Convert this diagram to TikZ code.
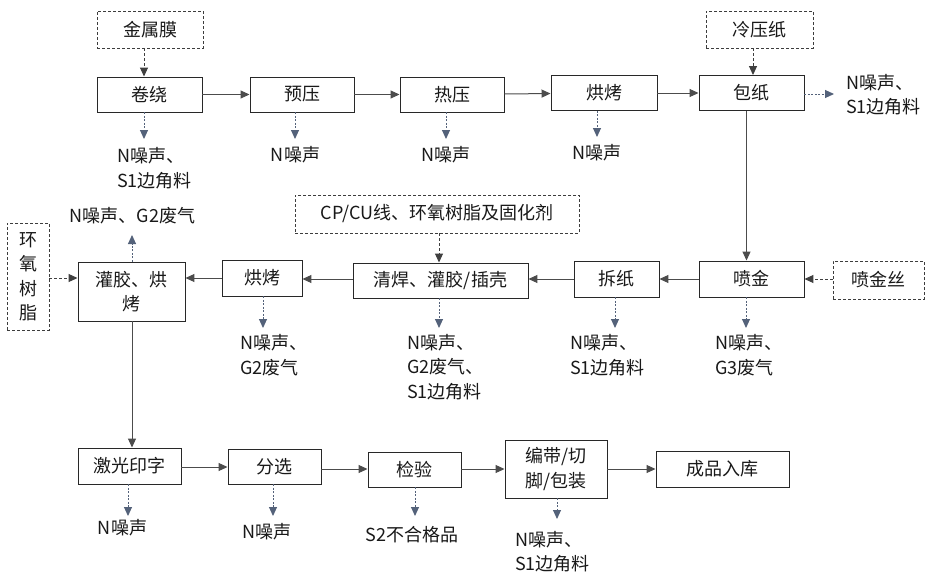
\documentclass[tikz,border=0pt]{standalone}
\usepackage{fontspec}
\setmainfont{Noto Sans CJK SC}
\usetikzlibrary{arrows.meta}
\definecolor{slate}{RGB}{84,98,122}
\definecolor{boxline}{RGB}{40,40,40}
\definecolor{txt}{RGB}{25,25,25}
\newcommand{\fs}{\fontsize{18}{24.5}\selectfont}
\begin{document}
\begin{tikzpicture}[x=1pt,y=-1pt,
  box/.style={draw=boxline, line width=0.95pt, inner sep=0pt, align=center, font=\fs, text=txt},
  dbox/.style={box, dash pattern=on 3pt off 2pt, draw=boxline!90},
  lab/.style={align=left, inner sep=0pt, font=\fs, text=txt},
  main/.style={-{Triangle[length=9pt,width=8pt]}, line width=1pt, draw=black!70},
  feed/.style={-{Triangle[length=9pt,width=8pt]}, line width=1pt, draw=black!75, dash pattern=on 3pt off 2pt},
  emit/.style={-{Triangle[length=9pt,width=8pt]}, line width=1pt, draw=slate, dash pattern=on 2pt off 1.5pt}
]
\useasboundingbox (0,0) rectangle (928,573);
\fill[white] (0,0) rectangle (928,573);

% row 1
\node[dbox, minimum width=106pt, minimum height=37pt] (mem) at (150,29.5) {金属膜};
\node[box, minimum width=105pt, minimum height=35pt] (jr) at (149.5,94.5) {卷绕};
\node[box, minimum width=104pt, minimum height=35pt] (yy) at (302,94.5) {预压};
\node[box, minimum width=104pt, minimum height=35pt] (ry) at (452,94.5) {热压};
\node[box, minimum width=106pt, minimum height=35pt] (hk) at (604,93) {烘烤};
\node[box, minimum width=105pt, minimum height=35pt] (bz) at (751.5,93) {包纸};
\node[dbox, minimum width=107pt, minimum height=37pt] (lyz) at (759.5,29.5) {冷压纸};

\draw[feed] (mem.south -| 144,0) -- (jr.north -| 144,0);
\draw[feed] (lyz.south -| 753,0) -- (bz.north -| 753,0);
\draw[main] (jr) -- (yy);
\draw[main] (yy) -- (ry);
\draw[main] (ry) -- (hk);
\draw[main] (hk) -- (bz);

\coordinate (e1) at (144,139);
\coordinate (e2) at (295,139);
\coordinate (e3) at (446,139);
\coordinate (e4) at (597,137);
\coordinate (e5) at (834,94);
\draw[emit] (jr.south -| e1) -- (e1);
\draw[emit] (yy.south -| e2) -- (e2);
\draw[emit] (ry.south -| e3) -- (e3);
\draw[emit] (hk.south -| e4) -- (e4);
\draw[emit] (bz.east |- e5) -- (e5);

\node[lab, anchor=west] (l1) at (117,168) {N噪声、\\S1边角料};
\node[lab] (l2) at (295.5,155) {N噪声};
\node[lab] (l3) at (445.5,155) {N噪声};
\node[lab] (l4) at (597,153) {N噪声};
\node[lab, anchor=west] (l5) at (846,94.5) {N噪声、\\S1边角料};

% row 2
\node[box, minimum width=105pt, minimum height=36pt] (pj) at (751.5,279) {喷金};
\node[dbox, minimum width=91pt, minimum height=38pt] (pjs) at (878.5,280) {喷金丝};
\node[box, minimum width=85pt, minimum height=36pt] (cz) at (616.5,279) {拆纸};
\node[box, minimum width=175pt, minimum height=35pt] (qh) at (440.5,280.5) {清焊、灌胶/插壳};
\node[dbox, minimum width=284pt, minimum height=38pt] (cp) at (437,214) {CP/CU线、环氧树脂及固化剂};
\node[box, minimum width=80pt, minimum height=36pt] (hk2) at (262,278) {烘烤};
\node[box, minimum width=107pt, minimum height=59pt] (gj) at (131.5,291.5) {灌胶、烘\\烤};
\node[dbox, minimum width=42pt, minimum height=107pt] (hy) at (28,276.5) {环\\氧\\树\\脂};

\draw[main] ([xshift=-5pt]bz.south) -- ([xshift=-5pt]bz.south |- pj.north);
\draw[feed] (pjs.west |- 0,279) -- (pj.east |- 0,279);
\draw[main] (pj.west |- 0,279) -- (cz.east |- 0,279);
\draw[main] (cz.west |- 0,279) -- (qh.east |- 0,279);
\draw[main] (qh.west |- 0,279) -- (hk2.east |- 0,279);
\draw[main] (hk2.west |- 0,278) -- (gj.east |- 0,278);
\draw[feed] (hy.east |- 0,278) -- (gj.west |- 0,278);
\draw[feed] (cp.south -| 439,0) -- (qh.north -| 439,0);

\coordinate (u1) at (132,235);
\draw[emit] (gj.north -| u1) -- (u1);
\node[lab] (lu) at (132.5,216) {N噪声、G2废气};

\coordinate (f1) at (263,328);
\coordinate (f2) at (439,328);
\coordinate (f3) at (615,328);
\coordinate (f4) at (746,328);
\draw[emit] (hk2.south -| f1) -- (f1);
\draw[emit] (qh.south -| f2) -- (f2);
\draw[emit] (cz.south -| f3) -- (f3);
\draw[emit] (pj.south -| f4) -- (f4);
\node[lab, anchor=west] (m1) at (240,355) {N噪声、\\G2废气};
\node[lab, anchor=west] (m2) at (407,367) {N噪声、\\G2废气、\\S1边角料};
\node[lab, anchor=west] (m3) at (570,355) {N噪声、\\S1边角料};
\node[lab, anchor=west] (m4) at (715,355) {N噪声、\\G3废气};

% row 3
\node[box, minimum width=103pt, minimum height=36pt] (jg) at (129.5,466) {激光印字};
\node[box, minimum width=93pt, minimum height=35pt] (fx) at (274.5,466.5) {分选};
\node[box, minimum width=93pt, minimum height=35pt] (jy) at (414.5,469.5) {检验};
\node[box, minimum width=102pt, minimum height=58pt] (bd) at (556,469) {编带/切\\脚/包装};
\node[box, minimum width=133pt, minimum height=36pt] (cpk) at (722.5,469) {成品入库};

\draw[main] (gj.south -| 132,0) -- (jg.north -| 132,0);
\draw[main] (jg.east |- 0,467) -- (fx.west |- 0,467);
\draw[main] (fx.east |- 0,469) -- (jy.west |- 0,469);
\draw[main] (jy.east |- 0,469) -- (bd.west |- 0,469);
\draw[main] (bd.east |- 0,469) -- (cpk.west |- 0,469);

\coordinate (g1) at (128,516);
\coordinate (g2) at (273,516);
\coordinate (g3) at (415,516);
\coordinate (g4) at (557,519);
\draw[emit] (jg.south -| g1) -- (g1);
\draw[emit] (fx.south -| g2) -- (g2);
\draw[emit] (jy.south -| g3) -- (g3);
\draw[emit] (bd.south -| g4) -- (g4);
\node[lab] (n1) at (122.5,528) {N噪声};
\node[lab] (n2) at (267,532) {N噪声};
\node[lab] (n3) at (412,535) {S2不合格品};
\node[lab, anchor=west] (n4) at (515,551.5) {N噪声、\\S1边角料};
\end{tikzpicture}
\end{document}
